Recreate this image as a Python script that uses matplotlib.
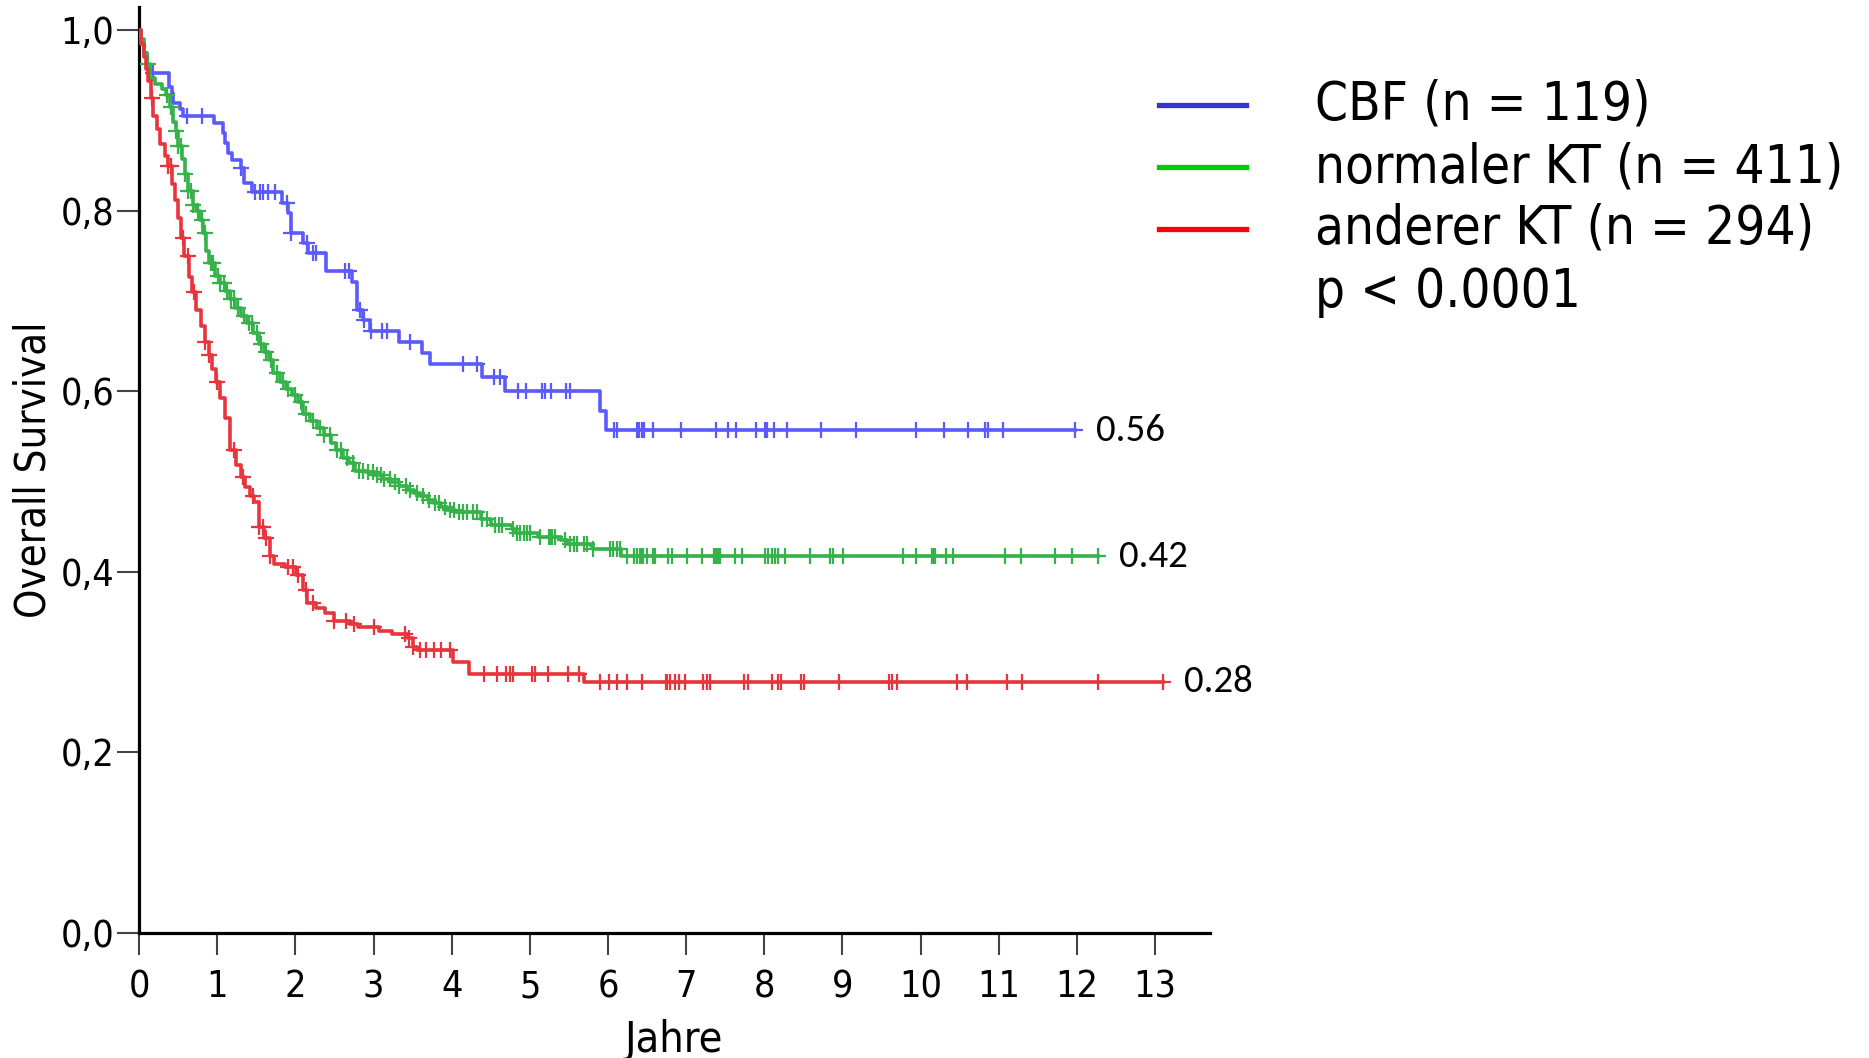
import numpy as np
import matplotlib
matplotlib.use("Agg")
import matplotlib.pyplot as plt
from matplotlib import font_manager

# ---- Kaplan-Meier step data (years, survival) ----
cbf_t = [0, 0.03, 0.06, 0.10, 0.14, 0.38, 0.42, 0.44, 0.52, 0.56, 0.96, 1.07, 1.10, 1.14,
         1.19, 1.30, 1.34, 1.44, 1.83, 1.90, 1.95, 2.10, 2.16, 2.39, 2.73, 2.79, 2.87, 2.96,
         3.32, 3.62, 3.72, 4.39, 4.68, 5.90, 5.98]
cbf_s = [1.0, 0.985, 0.974, 0.960, 0.952, 0.937, 0.930, 0.919, 0.912, 0.905, 0.897, 0.886,
         0.875, 0.864, 0.856, 0.847, 0.831, 0.821, 0.808, 0.797, 0.775, 0.764, 0.753, 0.733,
         0.721, 0.690, 0.679, 0.667, 0.655, 0.642, 0.630, 0.616, 0.600, 0.578, 0.557]
cbf_cens = [0.18, 0.61, 0.80, 1.31, 1.48, 1.55, 1.59, 1.65, 1.74, 1.89, 1.95, 2.15, 2.23,
            2.27, 2.64, 2.68, 2.83, 2.88, 2.97, 3.11, 3.17, 3.47, 4.15, 4.32, 4.54, 4.62,
            4.85, 4.95, 5.15, 5.20, 5.27, 5.46, 5.51, 6.08, 6.11, 6.37, 6.40, 6.43, 6.46,
            6.57, 6.94, 7.38, 7.53, 7.64, 7.90, 8.01, 8.03, 8.12, 8.29, 8.72, 9.17, 9.94,
            10.30, 10.61, 10.82, 10.86, 11.06, 11.98]

nkt_t = [0, 0.03, 0.06, 0.10, 0.14, 0.20, 0.29, 0.35, 0.40, 0.44, 0.47, 0.50, 0.55, 0.59,
         0.63, 0.69, 0.73, 0.78, 0.82, 0.86, 0.90, 0.97, 1.03, 1.10, 1.17, 1.23, 1.30, 1.38,
         1.46, 1.53, 1.60, 1.66, 1.72, 1.80, 1.88, 1.96, 2.03, 2.10, 2.19, 2.28, 2.36, 2.45,
         2.52, 2.61, 2.68, 2.76, 2.90, 3.02, 3.12, 3.22, 3.32, 3.43, 3.52, 3.60, 3.70, 3.77,
         3.86, 3.94, 4.04, 4.38, 4.50, 4.77, 4.82, 5.10, 5.40, 5.47, 5.78, 5.81, 6.17]
nkt_s = [1.0, 0.990, 0.975, 0.962, 0.947, 0.940, 0.935, 0.928, 0.915, 0.898, 0.888, 0.872,
         0.857, 0.840, 0.822, 0.806, 0.800, 0.790, 0.775, 0.755, 0.742, 0.728, 0.720, 0.711,
         0.702, 0.692, 0.683, 0.675, 0.664, 0.652, 0.643, 0.635, 0.620, 0.610, 0.602, 0.596,
         0.588, 0.575, 0.567, 0.559, 0.552, 0.543, 0.535, 0.526, 0.520, 0.512, 0.511, 0.507,
         0.503, 0.500, 0.495, 0.491, 0.487, 0.484, 0.479, 0.476, 0.472, 0.469, 0.466, 0.459,
         0.452, 0.447, 0.443, 0.439, 0.435, 0.431, 0.429, 0.425, 0.417]
nkt_cens = [0.11, 0.36, 0.41, 0.47, 0.50, 0.54, 0.59, 0.63, 0.66, 0.69, 0.76, 0.81, 0.84,
            0.92, 0.95, 1.01, 1.04, 1.09, 1.13, 1.18, 1.21, 1.27, 1.34, 1.41, 1.44, 1.51,
            1.56, 1.63, 1.69, 1.77, 1.84, 1.91, 1.99, 2.07, 2.14, 2.23, 2.31, 2.37, 2.44,
            2.53, 2.58, 2.66, 2.74, 2.81, 2.87, 2.93, 2.99, 3.04, 3.09, 3.14, 3.21, 3.28,
            3.33, 3.41, 3.47, 3.56, 3.63, 3.71, 3.79, 3.84, 3.91, 3.98, 4.03, 4.09, 4.14,
            4.20, 4.27, 4.33, 4.39, 4.45, 4.56, 4.60, 4.64, 4.79, 4.83, 4.88, 4.92, 4.96,
            5.00, 5.13, 5.24, 5.26, 5.28, 5.32, 5.45, 5.52, 5.56, 5.60, 5.69, 5.73, 5.81,
            6.03, 6.07, 6.11, 6.15, 6.24, 6.33, 6.37, 6.41, 6.43, 6.45, 6.50, 6.58, 6.60,
            6.77, 6.82, 7.01, 7.20, 7.35, 7.37, 7.39, 7.41, 7.43, 7.62, 7.72, 8.01, 8.05,
            8.10, 8.14, 8.18, 8.26, 8.59, 8.84, 8.88, 9.01, 9.78, 9.94, 10.14, 10.17, 10.19,
            10.32, 10.42, 11.08, 11.28, 11.72, 11.94, 12.27]

akt_t = [0, 0.03, 0.06, 0.09, 0.12, 0.15, 0.18, 0.23, 0.27, 0.33, 0.37, 0.42, 0.46, 0.50,
         0.54, 0.58, 0.64, 0.68, 0.73, 0.79, 0.84, 0.89, 0.93, 0.98, 1.04, 1.10, 1.16, 1.24,
         1.30, 1.36, 1.42, 1.47, 1.53, 1.60, 1.67, 1.73, 1.87, 2.01, 2.10, 2.15, 2.27, 2.38,
         2.50, 2.70, 2.80, 3.07, 3.24, 3.44, 3.50, 3.56, 4.02, 4.22, 5.69]
akt_s = [1.0, 0.985, 0.970, 0.957, 0.943, 0.925, 0.905, 0.890, 0.874, 0.860, 0.849, 0.830,
         0.812, 0.792, 0.770, 0.750, 0.727, 0.710, 0.690, 0.672, 0.655, 0.640, 0.625, 0.610,
         0.593, 0.570, 0.535, 0.518, 0.505, 0.494, 0.484, 0.477, 0.450, 0.437, 0.418, 0.409,
         0.405, 0.397, 0.380, 0.366, 0.360, 0.354, 0.345, 0.342, 0.339, 0.334, 0.331, 0.327,
         0.317, 0.313, 0.300, 0.287, 0.278]
akt_cens = [0.17, 0.37, 0.41, 0.56, 0.62, 0.70, 0.85, 0.90, 1.00, 1.22, 1.33, 1.46, 1.53,
            1.58, 1.62, 1.67, 1.90, 1.97, 2.03, 2.13, 2.22, 2.50, 2.65, 2.75, 3.00, 3.40,
            3.45, 3.50, 3.60, 3.67, 3.77, 3.86, 3.98, 4.41, 4.58, 4.69, 4.75, 4.78, 5.03,
            5.06, 5.23, 5.49, 5.63, 5.90, 6.01, 6.12, 6.24, 6.44, 6.74, 6.76, 6.79, 6.86,
            6.91, 6.98, 7.22, 7.27, 7.30, 7.74, 7.79, 8.10, 8.18, 8.21, 8.47, 8.51, 8.95,
            9.60, 9.64, 9.70, 10.46, 10.59, 11.11, 11.30, 12.27, 13.10]

group_labels = ["CBF (n = 119)", "normaler KT (n = 411)", "anderer KT (n = 294)"]
end_labels = ["0.56", "0.42", "0.28"]
p_text = "p < 0.0001"
x_ticks = list(range(0, 14))
y_ticks = [0.0, 0.2, 0.4, 0.6, 0.8, 1.0]
y_ticklabels = ["0,0", "0,2", "0,4", "0,6", "0,8", "1,0"]

curve_colors = ["#5a5aff", "#36b24a", "#e8353d"]
legend_colors = ["#3535cc", "#00cc00", "#ff0000"]

# ---- fonts ----
fl = font_manager.fontManager.ttflist
names = {f.name for f in fl}
main_stretch = "normal"
if any(f.name == "DejaVu Sans" and f.stretch == "condensed" for f in fl):
    main_stretch = "condensed"
value_family = [n for n in ("Carlito", "Open Sans Condensed", "PT Sans Narrow", "Open Sans")
                if n in names][:1] or ["DejaVu Sans"]

plt.rcParams["font.family"] = ["DejaVu Sans"]

fig = plt.figure(figsize=(18.69, 10.58), dpi=100)
ax = fig.add_axes([0.0744, 0.1181, 0.6473 - 0.0744, 0.993 - 0.1181])

series = [(cbf_t, cbf_s, cbf_cens), (nkt_t, nkt_s, nkt_cens), (akt_t, akt_s, akt_cens)]
for (t, s, c), col, lab in zip(series, curve_colors, end_labels):
    t = np.asarray(t)
    s = np.asarray(s)
    c = np.asarray(c)
    t_end = c.max()
    tt = np.append(t, t_end)
    ss = np.append(s, s[-1])
    ax.step(tt, ss, where="post", color=col, lw=2.6, zorder=3)
    idx = np.searchsorted(t, c, side="right") - 1
    ax.plot(c, s[idx], ls="none", marker="+", ms=12, mew=1.6, color=col, zorder=3)
    ax.text(t_end + 0.27, s[-1], lab, fontsize=28, family=value_family,
            va="center", ha="left")

ax.set_xlim(0, 13.7)
ax.set_ylim(0, 1.025)
ax.set_xticks(x_ticks)
ax.set_yticks(y_ticks)
ax.set_yticklabels(y_ticklabels)
for sp in ("top", "right"):
    ax.spines[sp].set_visible(False)
for sp in ("left", "bottom"):
    ax.spines[sp].set_linewidth(2.3)
ax.tick_params(axis="both", length=16, width=1.5, color="#444444", labelsize=27)
ax.tick_params(axis="y", pad=2)
ax.tick_params(axis="x", pad=10)
for lbl in ax.get_xticklabels() + ax.get_yticklabels():
    lbl.set_fontstretch(main_stretch)
ax.set_xlabel("Jahre", fontsize=31, fontstretch=main_stretch, labelpad=10)
ax.set_ylabel("Overall Survival", fontsize=30, fontstretch=main_stretch, labelpad=4)

# legend drawn in figure coordinates
W, H = 1869.0, 1058.0
rows_y = [105, 167, 229]
for yy, col, lab in zip(rows_y, legend_colors, group_labels):
    fig.add_artist(plt.Line2D([1159 / W, 1246 / W], [1 - yy / H, 1 - yy / H],
                              color=col, lw=3.8))
    fig.text(1315 / W, 1 - yy / H, lab, fontsize=38, fontstretch=main_stretch,
             va="center", ha="left")
fig.text(1315 / W, 1 - 292 / H, p_text, fontsize=38, fontstretch=main_stretch,
         va="center", ha="left")

fig.savefig("out.png", dpi=100)
